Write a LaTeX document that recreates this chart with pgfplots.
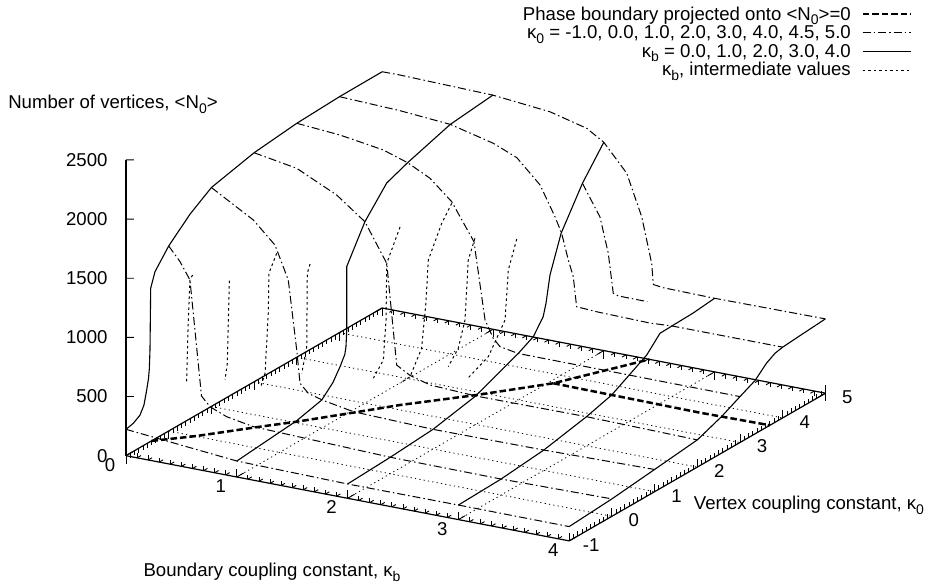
\documentclass[border=0pt]{standalone}
\usepackage{fontspec}
\setmainfont{Liberation Sans}
\usepackage{pgfplots}
\pgfplotsset{compat=1.18}
\newcommand{\lab}{\fontsize{18.6}{20}\selectfont}
\newcommand{\sub}[1]{\raisebox{-0.5ex}{\fontsize{14}{14}\selectfont #1}}
\pgfplotsset{
  frameaxis/.style={
    x={(110.8pt,-21.3pt)}, y={(42.7pt,24.6pt)}, z={(0pt,0.1183pt)},
    xmin=0, xmax=4, ymin=-1, ymax=5,
    clip=false,
    axis line style={line width=1.2pt,-},
    tick style={line width=0.9pt,black},
    tick align=inside,
    major tick length=8pt,
    minor tick length=4.5pt,
    xtick={0,1,2,3,4}, ytick={-1,0,1,2,3,4,5},
    minor x tick num=9, minor y tick num=9,
  },
  phase/.style={line width=2.5pt, dash pattern=on 6.5pt off 3pt},
  kzero/.style={line width=1pt, dash pattern=on 8pt off 3pt on 1.5pt off 3pt},
  kbnd/.style={line width=1.1pt},
  kint/.style={line width=1pt, dash pattern=on 2.5pt off 3pt},
  gridl/.style={line width=0.8pt, dash pattern=on 1.2pt off 3.2pt},
  ztickl/.style={line width=0.9pt},
}
\begin{document}
\begin{tikzpicture}
\begin{axis}[
  frameaxis,
  zmin=0, zmax=2500,
  axis x line*=bottom, axis y line*=left, axis z line*=left,
  ztick={0,500,1000,1500,2000,2500},
  z tick style={draw=none},
  /pgf/number format/assume math mode=true,
  /pgf/number format/1000 sep={},
  tick label style={font=\lab},
  xticklabel style={anchor=center, xshift=-16pt, yshift=-9pt},
  yticklabel style={anchor=center, xshift=22pt, yshift=-4pt},
  zticklabel style={anchor=east, xshift=-15pt},
  xlabel={Boundary coupling constant, κ\sub{b}},
  ylabel={Vertex coupling constant, κ\sub{0}},
  zlabel={Number of vertices, <N\sub{0}>},
  every axis x label/.style={at={(axis cs:2.354,-3.689,0)}, anchor=center, font=\lab},
  every axis y label/.style={at={(axis cs:5.201,1.499,0)}, anchor=center, font=\lab},
  every axis z label/.style={at={(axis cs:0,-1,2973)}, anchor=center, xshift=-13pt, font=\lab},
  legend cell align=right,
  legend plot pos=right,
  legend image code/.code={\draw[#1] (0pt,0pt) -- (48pt,0pt);},
  legend style={at={(axis cs:0,-1,0)}, anchor=south east, xshift=786pt, yshift=376pt,
    draw=none, fill=none, font=\lab, row sep=0pt, column sep=8.5pt, inner sep=0pt},
  every axis plot/.append style={black, forget plot},
]
\addlegendimage{phase, black}
\addlegendentry{Phase boundary projected onto <N\sub{0}>=0}
\addlegendimage{kzero, black}
\addlegendentry{κ\sub{0} = -1.0, 0.0, 1.0, 2.0, 3.0, 4.0, 4.5, 5.0}
\addlegendimage{kbnd, black}
\addlegendentry{κ\sub{b} = 0.0, 1.0, 2.0, 3.0, 4.0}
\addlegendimage{kint, black}
\addlegendentry{κ\sub{b}, intermediate values}

% z ticks run level across the picture
\addplot3[ztickl] coordinates {(0,-1,500) (0.0541,-0.9531,500)};
\addplot3[ztickl] coordinates {(0,-1,1000) (0.0541,-0.9531,1000)};
\addplot3[ztickl] coordinates {(0,-1,1500) (0.0541,-0.9531,1500)};
\addplot3[ztickl] coordinates {(0,-1,2000) (0.0541,-0.9531,2000)};
\addplot3[ztickl] coordinates {(0,-1,2500) (0.0541,-0.9531,2500)};

% grid on the floor
\addplot3[gridl] coordinates {(1,-1,0) (1,5,0)};
\addplot3[gridl] coordinates {(2,-1,0) (2,5,0)};
\addplot3[gridl] coordinates {(3,-1,0) (3,5,0)};
\addplot3[gridl] coordinates {(0,0,0) (4,0,0)};
\addplot3[gridl] coordinates {(0,1,0) (4,1,0)};
\addplot3[gridl] coordinates {(0,2,0) (4,2,0)};
\addplot3[gridl] coordinates {(0,3,0) (4,3,0)};
\addplot3[gridl] coordinates {(0,4,0) (4,4,0)};

% phase boundary at N=0
\addplot3[phase] coordinates {(0,-0.4,0) (0.247,0.015,0) (0.566,0.669,0) (0.756,1.037,0) (1.031,1.641,0) (1.259,2.151,0) (1.660,2.905,0) (2.041,3.711,0) (2.221,4.338,0) (2.411,5,0)};
\addplot3[phase] coordinates {(2.041,3.711,0) (3.379,3.674,0) (4,3.70,0)};

% constant k0
\addplot3[kzero] coordinates {(0,-1,223) (1,-1,135) (2,-1,121) (3,-1,123) (4,-1,121)};
\addplot3[kzero] coordinates {(0,0,1565) (0.102,0,1451) (0.192,0,1312) (0.296,0,350) (0.373,0,273) (0.523,0,216) (0.763,0,175) (1,0,168) (2,0,139) (3,0,135) (4,0,147)};
\addplot3[kzero] coordinates {(0,1,1851) (0.378,1,1645) (0.574,1,1468) (0.694,1,1194) (0.770,1,616) (0.80,1,340) (0.875,1,269) (1,1,235) (1.28,1,187) (2,1,167) (3,1,172) (4,1,188)};
\addplot3[kzero] coordinates {(0,2,1937) (0.384,2,1875) (0.745,2,1714) (1,2,1534) (1.197,2,1218) (1.287,2,374) (1.407,2,308) (1.588,2,260) (2,2,241) (3,2,246) (4,2,230)};
\addplot3[kzero] coordinates {(0,3,1978) (0.39,3,1949) (0.781,3,1893) (1,3,1825) (1.202,3,1730) (1.398,3,1567) (1.599,3,1265) (1.699,3,621) (1.773,3,480) (1.834,3,420) (2,3,392) (3,3,390) (4,3,388)};
\addplot3[kzero] coordinates {(0,4,1995) (0.546,4,1975) (1,4,1941) (1.388,4,1851) (1.6,4,1768) (1.81,4,1575) (1.945,4,1330) (2.005,4,1201) (2.065,4,986) (2.11,4,853) (2.14,4,605) (2.32,4,595) (2.80,4,586) (3,4,597) (4,4,598)};
\addplot3[kzero] coordinates {(2,4.5,1519) (2.158,4.5,1263) (2.233,4.5,970) (2.278,4.5,639) (2.323,4.5,625) (2.585,4.5,624)};
\addplot3[kzero] coordinates {(0,5,1998) (0.16,5,1999) (1,5,1980) (1.514,5,1932) (1.846,5,1852) (2,5,1762) (2.207,5,1537) (2.342,5,1194) (2.432,5,817) (2.447,5,640) (2.537,5,629) (3,5,623) (4,5,629)};

% constant kb
\addplot3[kbnd] coordinates {(0,-1,223) (0,-0.829,238) (0,-0.672,275) (0,-0.58,340) (0,-0.515,455) (0,-0.474,540) (0,-0.454,620) (0,-0.438,777) (0,-0.422,1295) (0,-0.321,1414) (0,0,1565) (0,0.5,1730) (0,1,1851) (0,2,1937) (0,3,1978) (0,4,1995) (0,5,1998)};
\addplot3[kbnd] coordinates {(1,-1,135) (1,0.40,184) (1,0.99,237) (1,1.25,330) (1,1.417,429) (1,1.53,510) (1,1.557,570) (1,1.574,700) (1,1.574,1243) (1,2,1534) (1,2.51,1755) (1,3,1825) (1,4,1941) (1,5,1981)};
\addplot3[kbnd] coordinates {(2,-1,121) (2,0,139) (2,1,167) (2,2,241) (2,3,394) (2,3.35,462) (2,3.58,582) (2,3.646,682) (2,3.74,902) (2,4,1200) (2,4.5,1519) (2,5,1762)};
\addplot3[kbnd] coordinates {(3,-1,123) (3,0,135) (3,1,172) (3,2,246) (3,2.59,307) (3,3,390) (3,3.41,474) (3,3.72,593) (3,4,597) (3,4.5,603) (3,5,623)};
\addplot3[kbnd] coordinates {(4,-1,121) (4,0,147) (4,1,188) (4,2,230) (4,2.57,309) (4,3,388) (4,3.35,450) (4,3.62,541) (4,3.82,584) (4,4,598) (4,4.5,614) (4,5,629)};

% intermediate kb, only around the jump
\addplot3[kint] coordinates {(0.2,0.04,1347) (0.2,-0.02,1318) (0.2,-0.06,988) (0.2,-0.10,475)};
\addplot3[kint] coordinates {(0.4,0.382,1264) (0.4,0.335,576) (0.4,0.281,447)};
\addplot3[kint] coordinates {(0.6,0.972,1409) (0.6,0.79,1278) (0.6,0.775,943) (0.6,0.70,451) (0.6,0.60,358)};
\addplot3[kint] coordinates {(0.8,1.234,1299) (0.8,1.17,1234) (0.8,1.157,616) (0.8,1.04,416)};
\addplot3[kint] coordinates {(1.2,2.304,1462) (1.2,1.993,1221) (1.2,1.976,745) (1.2,1.913,419) (1.2,1.68,314)};
\addplot3[kint] coordinates {(1.4,2.995,1555) (1.4,2.76,1434) (1.4,2.447,1189) (1.4,2.39,835) (1.4,2.29,475) (1.4,2.02,292) (1.4,1.78,286)};
\addplot3[kint] coordinates {(1.6,3.02,1290) (1.6,2.864,1139) (1.6,2.787,647) (1.6,2.63,441) (1.6,2.396,335)};
\addplot3[kint] coordinates {(1.8,3.48,1224) (1.8,3.283,1003) (1.8,3.206,596) (1.8,2.815,368) (1.8,2.31,281)};
\coordinate (O) at (axis cs:0,-1,0);
\coordinate (P) at (axis cs:0,0,0);
\end{axis}
% second axis only for the mirrored ticks along the back of the floor
\begin{axis}[
  frameaxis,
  zmin=0, zmax=1,
  at={(P)}, anchor=origin,
  axis x line*=top, axis y line*=right, axis z line=none,
  xticklabels={}, yticklabels={},
]
\end{axis}
\pgfresetboundingbox
\path[use as bounding box] ([shift={(-126pt,455.7pt)}]O) rectangle ([shift={(801pt,-130.3pt)}]O);
\end{tikzpicture}
\end{document}
